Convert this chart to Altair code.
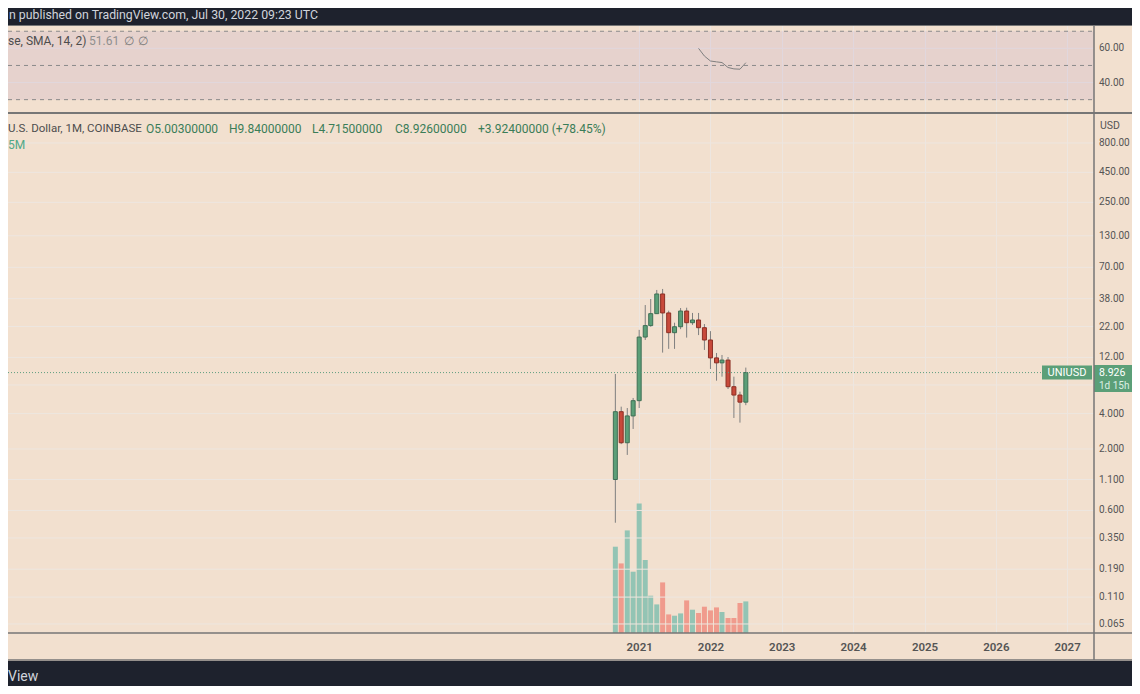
import altair as alt
import pandas as pd

# ---------------- data ----------------
months = ["2020-09-01", "2020-10-01", "2020-11-01", "2020-12-01",
          "2021-01-01", "2021-02-01", "2021-03-01", "2021-04-01",
          "2021-05-01", "2021-06-01", "2021-07-01", "2021-08-01",
          "2021-09-01", "2021-10-01", "2021-11-01", "2021-12-01",
          "2022-01-01", "2022-02-01", "2022-03-01", "2022-04-01",
          "2022-05-01", "2022-06-01", "2022-07-01"]
opens = [1.10, 4.15, 2.26, 3.82, 5.15, 17.9, 22.4, 28.3, 41.6, 28.7, 19.5, 21.9,
         29.8, 23.7, 25.0, 21.5, 16.9, 11.9, 10.8, 11.4, 6.77, 5.75, 5.003]
highs = [8.68, 4.58, 4.46, 5.43, 20.6, 33.5, 37.7, 45.0, 45.9, 30.0, 23.7, 31.6,
         31.8, 28.7, 28.7, 23.1, 20.1, 13.1, 12.6, 12.1, 8.24, 6.14, 9.84]
lows = [0.472, 2.20, 1.78, 2.96, 4.46, 16.9, 21.9, 28.1, 13.2, 14.2, 14.2, 20.9,
        17.7, 22.7, 18.6, 13.9, 9.58, 7.62, 8.24, 6.47, 3.67, 3.35, 4.715]
closes = [4.15, 2.26, 3.82, 5.15, 17.9, 22.4, 28.3, 41.6, 28.7, 19.5, 21.9, 29.8,
          23.7, 25.0, 21.5, 16.9, 11.9, 10.8, 11.4, 6.77, 5.75, 5.003, 8.926]
volumes_m = [8.63, 6.96, 10.26, 6.13, 12.96, 7.30, 3.73, 2.86, 5.06, 1.86, 1.73, 1.96,
             3.26, 2.33, 2.00, 2.63, 2.26, 2.56, 2.10, 1.50, 1.50, 3.00, 3.16]

rsi_months = ["2021-11-01", "2021-12-01", "2022-01-01", "2022-02-01", "2022-03-01",
              "2022-04-01", "2022-05-01", "2022-06-01", "2022-07-01"]
rsi_values = [60.0, 55.5, 52.6, 52.1, 51.7, 48.8, 48.0, 47.8, 51.61]
rsi_levels = [70, 50, 30]
rsi_ticks = [60, 40]
rsi_tick_labels = ["60.00", "40.00"]

price_ticks = [800, 450, 250, 130, 70, 38, 22, 12, 7, 4, 2, 1.1, 0.6, 0.35, 0.19, 0.11, 0.065]
price_tick_labels = ["800.00", "450.00", "250.00", "130.00", "70.00", "38.00", "22.00",
                     "12.00", "", "4.000", "2.000", "1.100", "0.600", "0.350", "0.190",
                     "0.110", "0.065"]
year_ticks = [2021, 2022, 2023, 2024, 2025, 2026, 2027]
last_price = 8.926
last_price_label = "8.926"
countdown = "1d 15h"
symbol = "UNIUSD"

# ---------------- styling ----------------
FONT = "Roboto"
BG = "#f2e0cf"
DARK = "#1e222d"
GRID = "#ede6e0"
SEP = "#767676"
GREEN = "#5b9f78"
GREEN_EDGE = "#3f6f55"
RED = "#c8493a"
RED_EDGE = "#8c2f24"
VOL_UP = "#93c4b4"
VOL_DN = "#f09b8d"
WICK = "#7f7f7f"
TXT = "#4d4d4d"
AX = "#555555"
LEG_GREEN = "#3a7d58"

W, H = 1086, 625          # plot area (price pane right edge)
TOTAL_W = 1124

df = pd.DataFrame({"month": months, "open": opens, "high": highs, "low": lows,
                   "close": closes, "vol": volumes_m})
df["dir"] = ["up" if c >= o else "down" for o, c in zip(opens, closes)]
rsi_df = pd.DataFrame({"month": rsi_months, "rsi": rsi_values})
lvl_df = pd.DataFrame({"lvl": rsi_levels})
band_df = pd.DataFrame({"lo": [min(rsi_levels)], "hi": [max(rsi_levels)]})
rsi_tick_df = pd.DataFrame({"v": rsi_ticks, "lab": rsi_tick_labels})
price_tick_df = pd.DataFrame({"v": price_ticks, "lab": price_tick_labels})
last_df = pd.DataFrame({"p": [last_price], "sym": [symbol],
                        "ptxt": [last_price_label], "cd": [countdown]})
one = pd.DataFrame({"k": [0]})

# ---------------- scales ----------------
anchor = pd.Timestamp("2021-01-01", tz="UTC")
px_day = 72 / 365.25
t0 = anchor - pd.Timedelta(days=632 / px_day)
t1 = anchor + pd.Timedelta(days=(W - 632) / px_day)
ms = lambda t: int(t.timestamp() * 1000)
year_vals = [ms(pd.Timestamp(f"{y}-01-01", tz="UTC")) for y in year_ticks]

x_scale = alt.Scale(type="utc", domain=[ms(t0), ms(t1)], nice=False)
x_axis = alt.Axis(values=year_vals, format="%Y", grid=True, gridColor=GRID,
                  gridWidth=1, domain=False, ticks=False, tickSize=0,
                  labelPadding=8, labelFont=FONT, labelFontSize=11.5,
                  labelFontWeight=600, labelColor=AX, title=None)
X = alt.X("month:T", scale=x_scale, axis=x_axis)

price_scale = alt.Scale(type="log", domain=[0.05447, 11246], nice=False)
rsi_scale = alt.Scale(domain=[-281.9, 83.6], nice=False, zero=False)


def py(field):
    return alt.Y(field, scale=price_scale, axis=None)


def ry(field):
    return alt.Y(field, scale=rsi_scale, axis=None)


# ---------------- RSI pane ----------------
rsi_grid = alt.Chart(rsi_tick_df).mark_rule(color=GRID, strokeWidth=1).encode(
    x=alt.value(0), x2=alt.value(W), y=ry("v:Q"))
rsi_band = alt.Chart(band_df).mark_rect(color="#7e57c2", opacity=0.1).encode(
    x=alt.value(0), x2=alt.value(W), y=ry("hi:Q"), y2="lo:Q")
rsi_lines = alt.Chart(lvl_df).mark_rule(color="#8a8a8a", strokeDash=[4, 4], strokeWidth=1).encode(
    x=alt.value(0), x2=alt.value(W), y=ry("lvl:Q"))
rsi_line = alt.Chart(rsi_df).mark_line(color="#7f7f7f", strokeWidth=1).encode(
    x=X, y=ry("rsi:Q"))
rsi_labels = alt.Chart(rsi_tick_df).mark_text(font=FONT, fontSize=10, color=AX,
                                               align="left", baseline="middle").encode(
    x=alt.value(W + 5), y=ry("v:Q"), text="lab:N")
rsi_group = alt.layer(rsi_grid, rsi_band, rsi_lines, rsi_line, rsi_labels)

# ---------------- volume ----------------
vol = alt.Chart(df).mark_bar(size=5).encode(
    x=X,
    y=alt.Y("vol:Q", scale=alt.Scale(domain=[0, 62.5], nice=False, zero=True), axis=None),
    fill=alt.condition(alt.datum.dir == "up", alt.value(VOL_UP), alt.value(VOL_DN)))

# ---------------- price ----------------
price_grid = alt.Chart(price_tick_df).mark_rule(color=GRID, strokeWidth=1).encode(
    x=alt.value(0), x2=alt.value(W), y=py("v:Q"))
price_labels = alt.Chart(price_tick_df).mark_text(font=FONT, fontSize=10, color=AX,
                                                   align="left", baseline="middle").encode(
    x=alt.value(W + 5), y=py("v:Q"), text="lab:N")
wick = alt.Chart(df).mark_rule(color=WICK, strokeWidth=1).encode(
    x=X, y=py("low:Q"), y2="high:Q")
body = alt.Chart(df).mark_bar(size=4, strokeWidth=1).encode(
    x=X, y=py("open:Q"), y2="close:Q",
    fill=alt.condition(alt.datum.dir == "up", alt.value(GREEN), alt.value(RED)),
    stroke=alt.condition(alt.datum.dir == "up", alt.value(GREEN_EDGE), alt.value(RED_EDGE)))
last_rule = alt.Chart(last_df).mark_rule(color="#5f9e80", strokeDash=[1, 2], strokeWidth=1).encode(
    x=alt.value(0), x2=alt.value(W - 52), y=py("p:Q"))
sym_box = alt.Chart(last_df).mark_point(shape="M-1,-0.28H1V0.28H-1Z", filled=True, size=2500,
                                         color=GREEN, opacity=1).encode(
    x=alt.value(W - 27), y=py("p:Q"))
sym_txt = alt.Chart(last_df).mark_text(font=FONT, fontSize=11, color="white",
                                        align="center", baseline="middle").encode(
    x=alt.value(W - 27), y=py("p:Q"), text="sym:N")
price_box = alt.Chart(last_df).mark_point(shape="M-1,-0.71H1V0.71H-1Z", filled=True, size=1444,
                                           color=GREEN, opacity=1, yOffset=6).encode(
    x=alt.value(W + 19), y=py("p:Q"))
price_txt = alt.Chart(last_df).mark_text(font=FONT, fontSize=10.5, color="white",
                                          align="left", baseline="middle").encode(
    x=alt.value(W + 5), y=py("p:Q"), text="ptxt:N")
cd_txt = alt.Chart(last_df).mark_text(font=FONT, fontSize=10, color="#dcefe4",
                                       align="left", baseline="middle", dy=13).encode(
    x=alt.value(W + 5), y=py("p:Q"), text="cd:N")
price_group = alt.layer(price_grid, price_labels, wick, body, last_rule,
                        sym_box, sym_txt, price_box, price_txt, cd_txt)


# ---------------- frame / decorations ----------------
def rect(color, x, x2, y, y2):
    return alt.Chart(one).mark_rect(color=color).encode(
        x=alt.value(x), x2=alt.value(x2), y=alt.value(y), y2=alt.value(y2))


def hrule(y, x=0, x2=TOTAL_W, w=1):
    return alt.Chart(one).mark_rule(color=SEP, strokeWidth=w).encode(
        x=alt.value(x), x2=alt.value(x2), y=alt.value(y))


def text(s, x, y, color=TXT, size=12, align="left", weight="normal"):
    return alt.Chart(pd.DataFrame({"t": [s]})).mark_text(
        font=FONT, fontSize=size, color=color, align=align, baseline="middle",
        fontWeight=weight).encode(x=alt.value(x), y=alt.value(y), text="t:N")


top_bar = rect(DARK, 0, TOTAL_W, 0, 17)
bot_bar = rect(DARK, 0, TOTAL_W, 653, 700)
sep_top = hrule(17.5, w=1)
sep_mid = hrule(105, w=2)
sep_x = hrule(625, w=1.5)
sep_bot = hrule(652, w=1.5)
vsep = alt.Chart(one).mark_rule(color=SEP, strokeWidth=1.5).encode(
    x=alt.value(W), y=alt.value(17), y2=alt.value(652))

texts = [
    text("n published on TradingView.com, Jul 30, 2022 09:23 UTC", 1, 7, color="#d1d4dc", size=12.3),
    text("se, SMA, 14, 2)", 0, 33, color=TXT),
    text("51.61", 81, 33, color="#8f8f8f"),
    text("\u2205", 116, 33, color="#7a7a7a"),
    text("\u2205", 130, 33, color="#7a7a7a"),
    text("U.S. Dollar, 1M, COINBASE", 0, 121, color=TXT, size=11.5),
    text("O5.00300000", 138, 121, color=LEG_GREEN),
    text("H9.84000000", 221, 121, color=LEG_GREEN),
    text("L4.71500000", 304, 121, color=LEG_GREEN),
    text("C8.92600000", 387, 121, color=LEG_GREEN),
    text("+3.92400000 (+78.45%)", 470, 121, color=LEG_GREEN),
    text("5M", 0, 137, color="#4fa888"),
    text("USD", W + 6, 118, color=AX, size=10.5),
    text("View", 0, 669, color="#d1d4dc", size=14),
]

chart = alt.layer(
    rsi_group, vol, price_group,
    top_bar, bot_bar, sep_top, sep_mid, sep_x, sep_bot, vsep,
    *texts,
).resolve_scale(y="independent").properties(
    width=W, height=H, autosize="none",
    padding={"left": 0, "top": 0, "right": TOTAL_W - W, "bottom": 53},
    background=BG,
).configure_view(fill=BG, stroke=None)

chart.save("out.html", embed_options={"renderer": "svg", "actions": False})
